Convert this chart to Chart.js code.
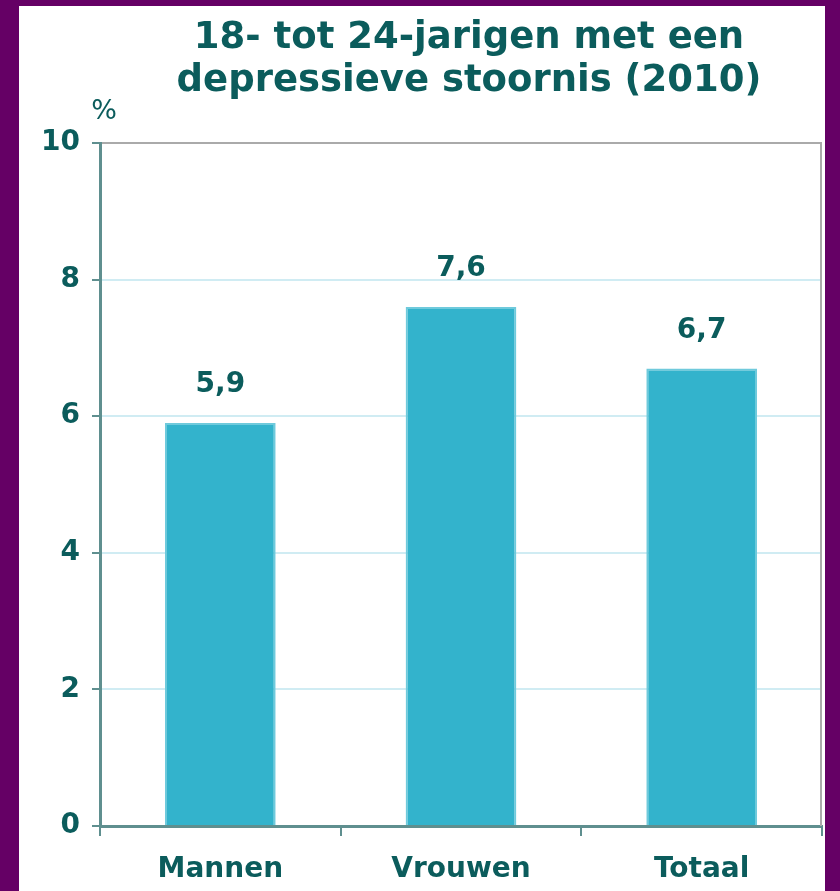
<!DOCTYPE html>
<html>
<head>
<meta charset="utf-8">
<script src="https://cdn.jsdelivr.net/npm/chart.js@4"></script>
<style>
    html, body {
        margin: 0;
        padding: 0;
        background: #650065;
        width: 840px;
        height: 891px;
        overflow: hidden;
    }
    .frame {
        position: absolute;
        left: 19px;
        top: 6px;
        width: 806px;
        height: 885px;
        background: #ffffff;
    }
</style>
</head>
<body>
<div class="frame">
    <canvas id="chart" width="806" height="885"></canvas>
</div>
<script>
// Data
var categories = ["Mannen", "Vrouwen", "Totaal"];
var values = [5.9, 7.6, 6.7];
var yTicks = [0, 2, 4, 6, 8, 10];
var titleLines = ["18- tot 24-jarigen met een", "depressieve stoornis (2010)"];

var tealText = "#0b5c5c";
var axisGrey = "#5f8f8f";
var fontName = "'DejaVu Sans', Verdana, sans-serif";

// Title, value labels above the bars, the "%" unit and the right border
var extras = {
    id: "extras",
    afterDatasetsDraw: function(chart) {
        var ctx = chart.ctx;
        var area = chart.chartArea;
        var mid = (area.left + area.right) / 2;
        ctx.save();

        // right border of the plot
        ctx.strokeStyle = "#aaaaaa";
        ctx.lineWidth = 2;
        ctx.beginPath();
        ctx.moveTo(area.right - 1, area.top);
        ctx.lineTo(area.right - 1, area.bottom);
        ctx.stroke();

        ctx.fillStyle = tealText;
        ctx.textAlign = "center";
        ctx.textBaseline = "middle";

        // title, centred over the plot
        ctx.font = "bold 37px " + fontName;
        titleLines.forEach(function(line, i) {
            ctx.fillText(line, mid + 8, 32 + i * 43);
        });

        ctx.font = "bold 28px " + fontName;
        chart.getDatasetMeta(0).data.forEach(function(bar, i) {
            ctx.fillText(values[i].toFixed(1).replace(".", ","), bar.x, bar.y - 38);
        });

        ctx.font = "27px " + fontName;
        ctx.fillText("%", area.left + 4, area.top - 31);
        ctx.restore();
    }
};

var chart = new Chart(document.getElementById("chart"), {
    type: "bar",
    data: {
        labels: categories,
        datasets: [
            {
                data: values,
                backgroundColor: "#33b3cc",
                borderColor: "#6fcadc",
                borderWidth: 2,
                barPercentage: 0.46,
                categoryPercentage: 1
            }
        ]
    },
    options: {
        responsive: false,
        animation: false,
        layout: {
            padding: { left: 0, right: 3, top: 137, bottom: 3 }
        },
        plugins: {
            legend: { display: false },
            tooltip: { enabled: false },
            title: { display: false }
        },
        scales: {
            x: {
                afterFit: function(axis) {
                    axis.height = 62;
                },
                grid: {
                    drawOnChartArea: false,
                    color: axisGrey,
                    tickLength: 10,
                    lineWidth: 2
                },
                border: { color: axisGrey, width: 3 },
                ticks: {
                    color: tealText,
                    font: { family: fontName, size: 28, weight: "bold", lineHeight: 1 },
                    padding: 20
                }
            },
            y: {
                min: 0,
                max: 10,
                afterBuildTicks: function(axis) {
                    axis.ticks = yTicks.map(function(v) { return { value: v }; });
                },
                afterFit: function(axis) {
                    axis.width = 81;
                },
                grid: {
                    color: function(c) {
                        return c.tick && c.tick.value === 10 ? "#aaaaaa" : "#d0ecf3";
                    },
                    tickColor: axisGrey,
                    lineWidth: 2,
                    tickLength: 8
                },
                border: { color: axisGrey, width: 3 },
                ticks: {
                    color: tealText,
                    font: { family: fontName, size: 28, weight: "bold" },
                    padding: 12
                }
            }
        }
    },
    plugins: [extras]
});
</script>
</body>
</html>
